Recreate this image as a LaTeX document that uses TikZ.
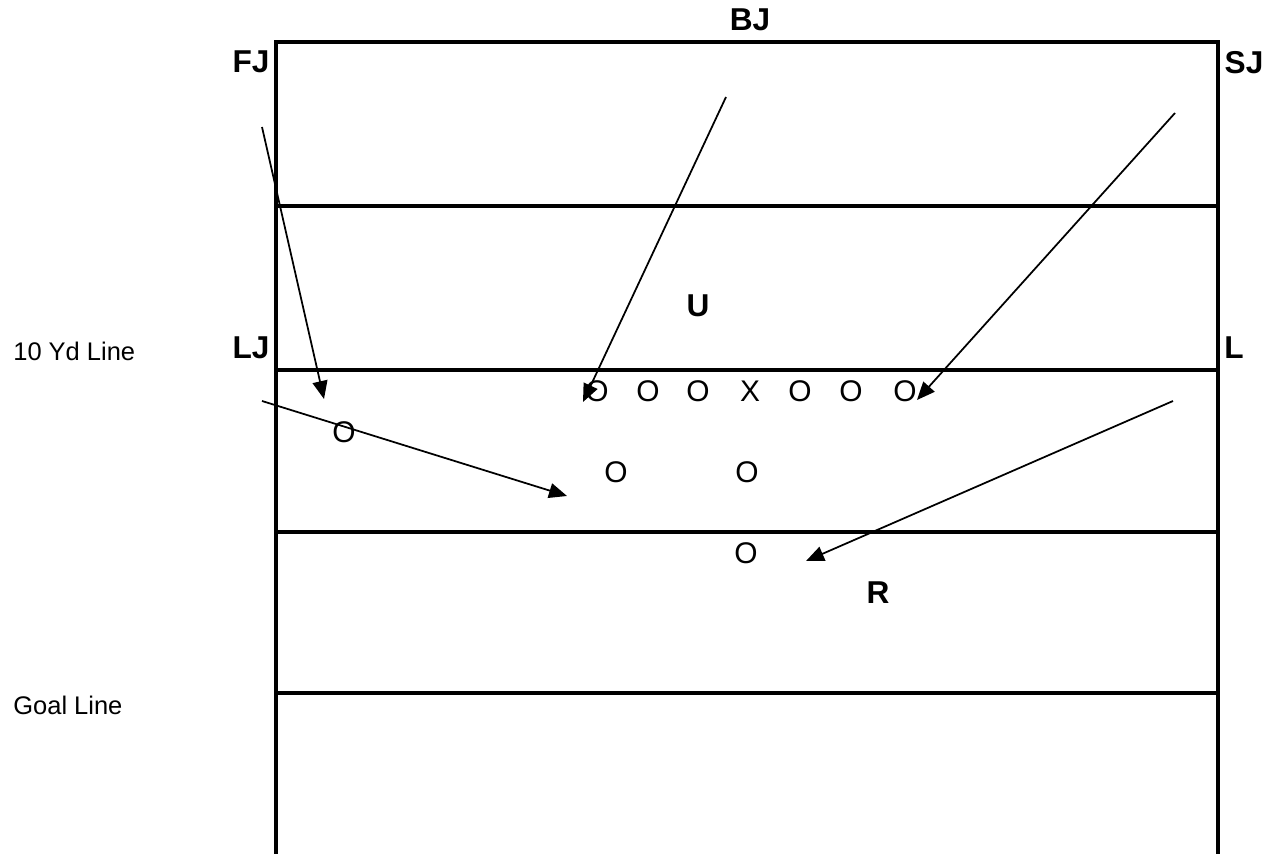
\documentclass[tikz,border=0pt]{standalone}
\usepackage{fontspec}
\setmainfont{Liberation Sans}
\usepackage{tikz}
\usetikzlibrary{arrows.meta}

\tikzset{
  fieldline/.style={line width=0.07cm},
  official/.style={font=\fontsize{18}{18}\selectfont\bfseries, inner sep=0pt},
  player/.style={font=\fontsize{17}{17}\selectfont, inner sep=0pt},
  sidetext/.style={font=\fontsize{14.5}{14.5}\selectfont, anchor=west, inner sep=0pt},
  move/.style={line width=0.035cm, -{Triangle[length=0.36cm, width=0.3cm]}}
}

\begin{document}
\begin{tikzpicture}[x=0.02cm, y=-0.02cm]

\useasboundingbox (0,0) rectangle (1265,854);

% Field outline and yard lines
\draw[fieldline] (276,854) -- (276,42) -- (1218,42) -- (1218,854);
\draw[fieldline] (276,206) -- (1218,206);
\draw[fieldline] (276,370) -- (1218,370);
\draw[fieldline] (276,532) -- (1218,532);
\draw[fieldline] (276,693) -- (1218,693);

% Side labels
\node[sidetext] (tenyd) at (13,351) {10 Yd Line};
\node[sidetext] (goal) at (13,705) {Goal Line};

% Officials
\node[official] (bj) at (750,20) {BJ};
\node[official] (fj) at (251,62) {FJ};
\node[official] (sj) at (1244,63) {SJ};
\node[official] (lj) at (251,348) {LJ};
\node[official] (ls) at (1234,348) {L};
\node[official] (ump) at (698,306) {U};
\node[official] (ref) at (878,593) {R};

% Offense
\node[player] (p1) at (597,391) {O};
\node[player] (p2) at (648,391) {O};
\node[player] (p3) at (698,391) {O};
\node[player] (ball) at (750,391) {X};
\node[player] (p4) at (800,391) {O};
\node[player] (p5) at (851,391) {O};
\node[player] (p6) at (905,391) {O};
\node[player] (wide) at (344,432) {O};
\node[player] (back1) at (616,472) {O};
\node[player] (back2) at (747,472) {O};
\node[player] (deep) at (746,553) {O};

% Movement of the officials
\coordinate (fjA) at (262,127);
\coordinate (fjB) at (324,399);
\coordinate (bjA) at (726,97);
\coordinate (bjB) at (583,402);
\coordinate (sjA) at (1175,113);
\coordinate (sjB) at (917,400);
\coordinate (ljA) at (262,401);
\coordinate (ljB) at (567,496);
\coordinate (lsA) at (1173,401);
\coordinate (lsB) at (806,561);

\draw[move] (fjA) -- (fjB);
\draw[move] (bjA) -- (bjB);
\draw[move] (sjA) -- (sjB);
\draw[move] (ljA) -- (ljB);
\draw[move] (lsA) -- (lsB);

\end{tikzpicture}
\end{document}
